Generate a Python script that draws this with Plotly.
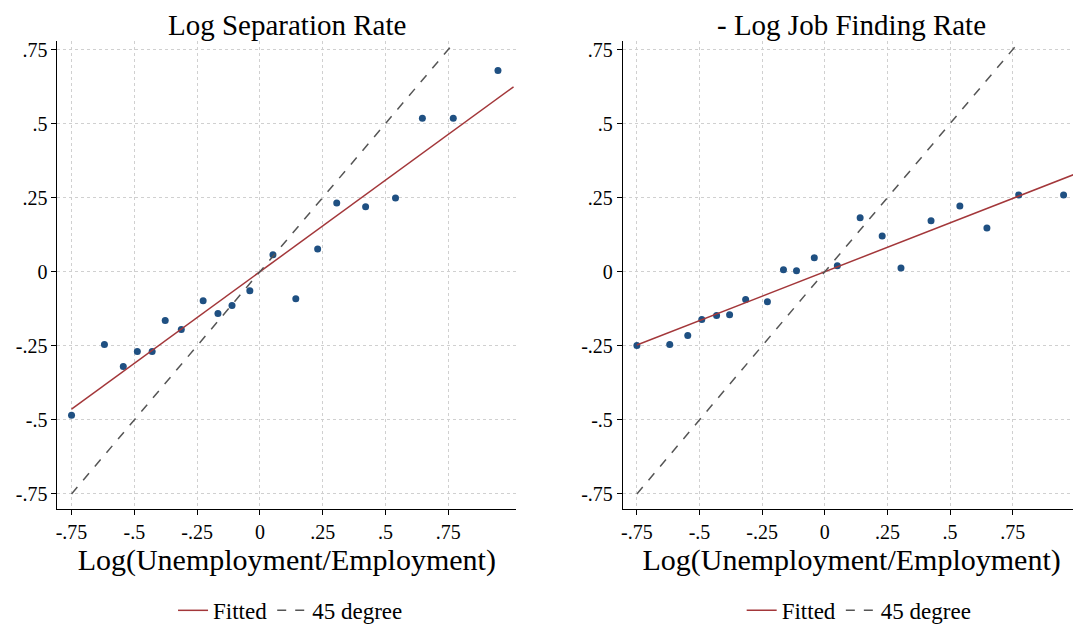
import numpy as np
import plotly.graph_objects as go

# binned scatter points
x_sep = [-0.75, -0.619, -0.544, -0.488, -0.429, -0.377, -0.313, -0.226, -0.167, -0.111,
         -0.040, 0.052, 0.143, 0.230, 0.306, 0.421, 0.540, 0.647, 0.770, 0.948]
y_sep = [-0.484, -0.246, -0.320, -0.269, -0.269, -0.165, -0.195, -0.098, -0.141, -0.114,
         -0.064, 0.057, -0.091, 0.077, 0.232, 0.219, 0.249, 0.518, 0.518, 0.679]

x_jf = [-0.75, -0.619, -0.547, -0.491, -0.432, -0.380, -0.316, -0.229, -0.165, -0.113,
        -0.042, 0.050, 0.141, 0.229, 0.304, 0.424, 0.539, 0.647, 0.774, 0.953]
y_jf = [-0.249, -0.246, -0.215, -0.161, -0.148, -0.145, -0.094, -0.101, 0.007, 0.003,
        0.047, 0.020, 0.182, 0.121, 0.013, 0.172, 0.222, 0.148, 0.259, 0.259]

# fitted lines (slope, intercept)
fit_sep = [0.618, 0.0]
fit_jf = [0.33, 0.0]
fit_x = [-0.75, 1.01]
deg_x = [-0.75, 0.76]

tickvals = [-0.75, -0.5, -0.25, 0, 0.25, 0.5, 0.75]
ticktext = ["-.75", "-.5", "-.25", "0", ".25", ".5", ".75"]

navy = "#1f5082"
red = "#a3373a"
font = "Liberation Serif"

fig = go.Figure()
panels = [(x_sep, y_sep, fit_sep, "x", "y", "legend"),
          (x_jf, y_jf, fit_jf, "x2", "y2", "legend2")]
for xs, ys, fit, xa, ya, lg in panels:
    fig.add_trace(go.Scatter(x=xs, y=ys, mode="markers", marker=dict(color=navy, size=7),
                             showlegend=False, xaxis=xa, yaxis=ya))
    fx = np.array(fit_x)
    fig.add_trace(go.Scatter(x=fx, y=fit[0] * fx + fit[1], mode="lines", name="Fitted",
                             line=dict(color=red, width=1.5), xaxis=xa, yaxis=ya, legend=lg))
    fig.add_trace(go.Scatter(x=deg_x, y=deg_x, mode="lines", name="45 degree",
                             line=dict(color="#555555", width=1.5, dash="dash"),
                             xaxis=xa, yaxis=ya, legend=lg))

ax = dict(tickvals=tickvals, ticktext=ticktext, showgrid=True, gridcolor="#d0d0d0",
          griddash="dot", zeroline=False, showline=True, linecolor="black",
          ticks="outside", ticklen=5, tickcolor="black",
          tickfont=dict(family="Liberation Serif", size=20, color="black"))
xr = [-0.806, 1.02]
yr = [-0.80, 0.78]
ydom = [0.202, 0.951]
xtitle = dict(text="Log(Unemployment/Employment)", standoff=4,
              font=dict(family=font, size=30))

fig.update_layout(
    width=1081, height=627, plot_bgcolor="white", paper_bgcolor="white",
    margin=dict(l=0, r=0, t=0, b=0),
    font=dict(family=font, color="black"),
    xaxis=dict(ax, domain=[0.044, 0.469], range=xr, title=xtitle),
    yaxis=dict(ax, domain=ydom, range=yr),
    xaxis2=dict(ax, domain=[0.568, 0.992], range=xr, anchor="y2", title=xtitle),
    yaxis2=dict(ax, domain=ydom, range=yr, anchor="x2"),
    legend=dict(orientation="h", x=0.26, xanchor="center", y=0.005, yanchor="bottom",
                font=dict(size=23)),
    legend2=dict(orientation="h", x=0.787, xanchor="center", y=0.005, yanchor="bottom",
                 font=dict(size=23)),
    annotations=[
        dict(text="Log Separation Rate", x=0.2565, y=1.005, xref="paper", yref="paper",
             xanchor="center", yanchor="top", showarrow=False, font=dict(size=29)),
        dict(text="- Log Job Finding Rate", x=0.78, y=1.005, xref="paper", yref="paper",
             xanchor="center", yanchor="top", showarrow=False, font=dict(size=29)),
    ],
)

fig.write_html("out.html")
